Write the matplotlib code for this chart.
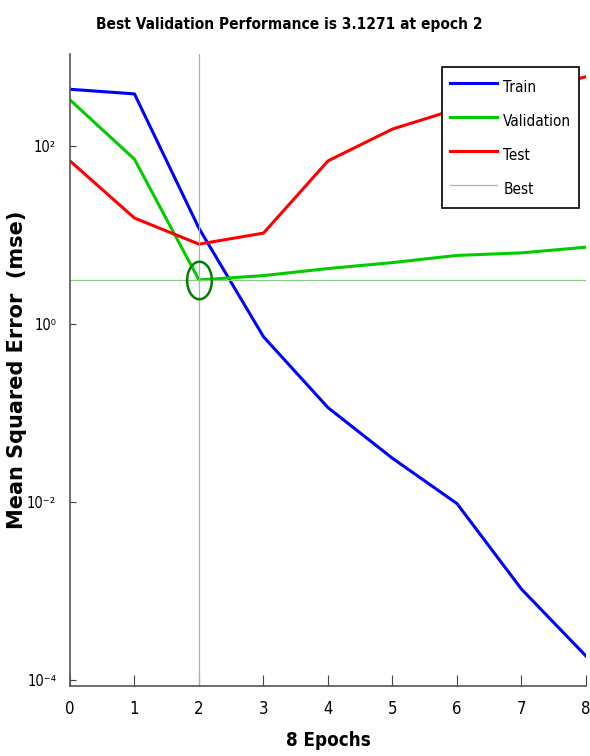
import numpy as np
import matplotlib
matplotlib.use("Agg")
import matplotlib.pyplot as plt
from matplotlib.path import Path
from matplotlib.transforms import Affine2D

plt.rcParams['font.family'] = ['DejaVu Sans']
plt.rcParams['font.stretch'] = 'condensed'

# performance values
epochs = [0, 1, 2, 3, 4, 5, 6, 7, 8]
train_mse = [434, 385, 11.9, 0.72, 0.115, 0.031, 0.0096, 0.00105, 0.000186]
val_mse = [330, 71, 3.1271, 3.5, 4.2, 4.9, 5.9, 6.3, 7.3]
test_mse = [68, 15.5, 7.9, 10.5, 68, 155, 261, 395, 600]
best_epoch = 2
best_val = 3.1271
yticks = [1e-4, 1e-2, 1, 1e2]
ytick_labels = ['10⁻⁴', '10⁻²', '10⁰', '10²']

fig = plt.figure(figsize=(5.9, 7.56), dpi=100)
ax = fig.add_axes([0.1186, 0.0926, 0.8746, 0.836])

ax.semilogy(epochs, train_mse, color='#0000ff', lw=2.2, label='Train')
ax.semilogy(epochs, val_mse, color='#00cc00', lw=2.2, label='Validation')
ax.semilogy(epochs, test_mse, color='#ff0000', lw=2.2, label='Test')
ax.axhline(best_val, color='#88cc88', lw=0.9, label='Best')
ax.axvline(best_epoch, color='#88cc88', lw=0.9)

# stretched circle around the best point
ell = Path.unit_circle().transformed(Affine2D().scale(0.66, 1.0))
ax.plot([best_epoch], [best_val], marker=ell, ms=27, mfc='none',
        mec='#007f00', mew=1.8, ls='none')

ax.set_xlim(0, 8)
ax.set_ylim(10 ** -4.067, 10 ** 3.034)
ax.set_xticks(epochs)
ax.set_yticks(yticks)
ax.set_yticklabels(ytick_labels)
ax.minorticks_off()
ax.tick_params(axis='x', direction='in', length=8, width=0.8, pad=10,
               labelsize=12, colors='#444444', labelcolor='black')
ax.tick_params(axis='y', direction='in', length=4, width=0.8, pad=10,
               labelsize=10.5, colors='#444444', labelcolor='black')
for s in ['top', 'right']:
    ax.spines[s].set_visible(False)
for s in ['left', 'bottom']:
    ax.spines[s].set_color('#555555')
    ax.spines[s].set_linewidth(1.2)

ax.set_xlabel('8 Epochs', fontsize=13.5, fontweight='bold')
ax.xaxis.set_label_coords(0.5, -0.071)
ax.set_ylabel('Mean Squared Error  (mse)', fontsize=15, fontweight='bold',
              fontstretch='normal')
ax.yaxis.set_label_coords(-0.083, 0.5)
fig.text(0.49, 0.967, 'Best Validation Performance is 3.1271 at epoch 2',
         ha='center', va='center', fontsize=11.1, fontweight='bold')

leg = ax.legend(loc='upper right', bbox_to_anchor=(0.9864, 0.979), fontsize=11,
                frameon=True, fancybox=False, edgecolor='black', framealpha=1,
                handlelength=3.1, handleheight=2.0, labelspacing=0.68,
                borderpad=0.5, handletextpad=0.4, borderaxespad=0)
leg.get_frame().set_linewidth(1.2)

fig.savefig('out.png', dpi=100)
